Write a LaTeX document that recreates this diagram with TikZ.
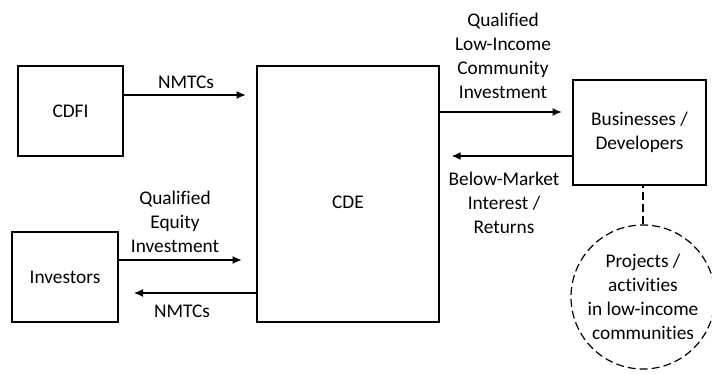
\documentclass[tikz,border=0pt]{standalone}
\usepackage{fontspec}
\setmainfont[Ligatures=NoCommon]{Carlito}
\usetikzlibrary{arrows.meta}
\tikzset{
  box/.style={draw, line width=1.5pt, align=center},
  flow/.style={line width=1.3pt, -{Latex[length=7pt,width=6pt]}},
  link/.style={line width=1.8pt, dash pattern=on 6pt off 3pt},
  txt/.style={align=center, inner sep=0pt},
}
\begin{document}
\begin{tikzpicture}[x=0.75pt,y=-0.75pt,font=\fontsize{14.5}{18}\selectfont]
	\useasboundingbox (0,0) rectangle (712,374);
	% boxes
	\node[box, minimum width=78.75pt, minimum height=67.5pt] (cdfi) at (70.5,111) {CDFI};
	\node[box, minimum width=79.5pt, minimum height=67.5pt] (investors) at (65,277) {Investors};
	\node[box, minimum width=136.5pt, minimum height=192pt, text height=22pt, text depth=0pt] (cde) at (348,194) {CDE};
	\node[box, minimum width=99.75pt, minimum height=78.75pt] (biz) at (639.5,132.5) {Businesses /\\Developers};
	\node[draw, circle, line width=0.9pt, dash pattern=on 6pt off 3pt, minimum size=108pt, align=center, inner sep=0pt] (proj) at (643,297) {Projects /\\activities\\in low-income\\communities};
	% arrow heights
	\coordinate (r1) at (0,95);
	\coordinate (r2) at (0,260);
	\coordinate (r3) at (0,293);
	\coordinate (r4) at (0,112);
	\coordinate (r5) at (0,156);
	\draw[flow, shorten >=7.5pt] (cdfi.east |- r1) -- (cde.west |- r1);
	\draw[flow, shorten >=10.5pt] (investors.east |- r2) -- (cde.west |- r2);
	\draw[flow, shorten >=11pt] (cde.west |- r3) -- (investors.east |- r3);
	\draw[flow, shorten >=7.5pt] (cde.east |- r4) -- (biz.west |- r4);
	\draw[flow, shorten >=8.5pt] (biz.west |- r5) -- (cde.east |- r5);
	\draw[link] (proj.north) -- (proj.north |- biz.south);
	% labels
	\node[txt] (l1) at (186,82) {NMTCs};
	\node[txt] (l2) at (175,222) {Qualified\\Equity\\Investment};
	\node[txt] (l3) at (182,311) {NMTCs};
	\node[txt] (l4) at (503,56) {Qualified\\Low-Income\\Community\\Investment};
	\node[txt] (l5) at (504,203) {Below-Market\\Interest /\\Returns};
\end{tikzpicture}
\end{document}
